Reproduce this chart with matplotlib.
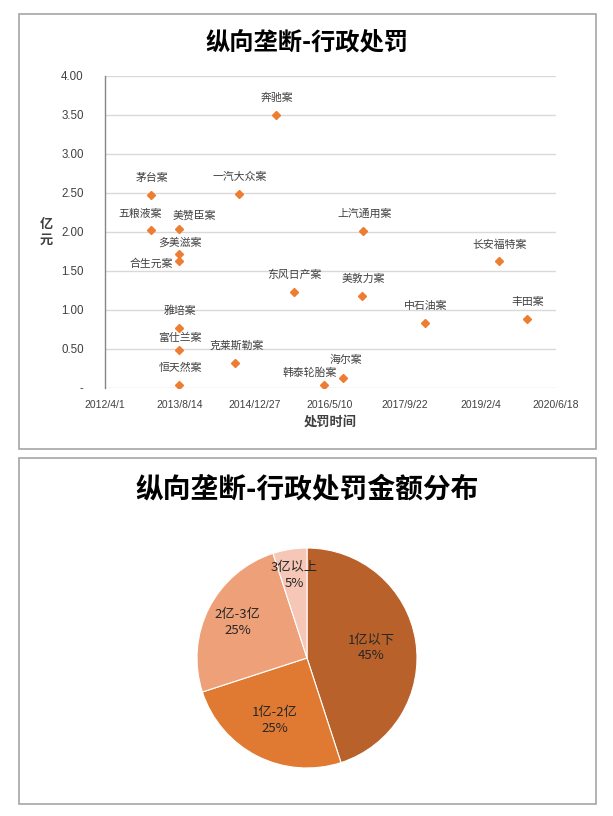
import matplotlib
matplotlib.use('Agg')
import matplotlib.pyplot as plt
import matplotlib.dates as mdates
from matplotlib.patches import Rectangle
import datetime as dt
import numpy as np

plt.rcParams['font.family'] = ['Noto Sans CJK SC', 'DejaVu Sans']

# ---------------- data ----------------
cases = ['茅台案', '五粮液案', '美赞臣案', '多美滋案', '合生元案', '雅培案', '富仕兰案',
         '恒天然案', '一汽大众案', '克莱斯勒案', '奔驰案', '东风日产案', '韩泰轮胎案',
         '海尔案', '美敦力案', '上汽通用案', '中石油案', '长安福特案', '丰田案']
dates = ['2013-02-03', '2013-02-03', '2013-08-10', '2013-08-10', '2013-08-10', '2013-08-10',
         '2013-08-10', '2013-08-10', '2014-09-11', '2014-08-19', '2015-05-19', '2015-09-12',
         '2016-04-03', '2016-08-07', '2016-12-12', '2016-12-18', '2018-01-30', '2019-06-05',
         '2019-12-09']
fines = [2.47, 2.02, 2.04, 1.71, 1.62, 0.77, 0.48, 0.04, 2.48, 0.32, 3.50, 1.23, 0.03,
         0.12, 1.18, 2.01, 0.83, 1.62, 0.88]

x_tick_dates = ['2012-04-01', '2013-08-14', '2014-12-27', '2016-05-10', '2017-09-22',
                '2019-02-04', '2020-06-18']
x_tick_labels = ['2012/4/1', '2013/8/14', '2014/12/27', '2016/5/10', '2017/9/22',
                 '2019/2/4', '2020/6/18']
y_ticks = [0, 0.5, 1.0, 1.5, 2.0, 2.5, 3.0, 3.5, 4.0]
y_tick_labels = ['-', '0.50', '1.00', '1.50', '2.00', '2.50', '3.00', '3.50', '4.00']

pie_labels = ['1亿以下', '1亿-2亿', '2亿-3亿', '3亿以上']
pie_shares = [45, 25, 25, 5]

title_top = '纵向垄断-行政处罚'
title_bottom = '纵向垄断-行政处罚金额分布'

# ---------------- styling ----------------
W, H = 613, 816
fig = plt.figure(figsize=(W / 100, H / 100), dpi=100)
fig.patch.set_facecolor('white')

def fx(px):
    return px / W

def fy(py):
    return 1 - py / H

border_c = '#A6A6A6'
fig.patches.append(Rectangle((fx(19), fy(449)), fx(596) - fx(19), fy(14) - fy(449),
                             transform=fig.transFigure, fill=False, ec=border_c, lw=1.2))
fig.patches.append(Rectangle((fx(19), fy(804)), fx(596) - fx(19), fy(458) - fy(804),
                             transform=fig.transFigure, fill=False, ec=border_c, lw=1.2))

txt_c = '#404040'
tick_font = ['Liberation Sans', 'DejaVu Sans']

# ---------------- scatter ----------------
left, right, top, bottom = 104.5, 555.5, 75.7, 387.7
ax = fig.add_axes([fx(left), fy(bottom), fx(right) - fx(left), fy(top) - fy(bottom)])
xd = [mdates.date2num(dt.date.fromisoformat(d)) for d in dates]
ax.plot(xd, fines, linestyle='none', marker='D', ms=4.3, color='#ED7D31', zorder=3)

xt = [mdates.date2num(dt.date.fromisoformat(d)) for d in x_tick_dates]
ax.set_xlim(xt[0], xt[-1])
ax.set_ylim(0, 4)
ax.set_xticks(xt)
ax.set_xticklabels(x_tick_labels, family=tick_font, fontsize=7.5, color=txt_c)
ax.set_yticks(y_ticks)
ax.set_yticklabels(y_tick_labels, family=tick_font, fontsize=8.3, color=txt_c)
ax.tick_params(axis='both', length=0)
ax.tick_params(axis='x', pad=9)
ax.tick_params(axis='y', pad=15)
ax.grid(axis='y', color='#D9D9D9', lw=1)
ax.set_axisbelow(True)
for s in ['top', 'right', 'bottom']:
    ax.spines[s].set_visible(False)
ax.spines['left'].set_color('#868686')
ax.spines['left'].set_linewidth(1)

offsets = {'五粮液案': (-11, 16), '美赞臣案': (15, 13), '多美滋案': (1, 12),
           '合生元案': (-28, -2), '富仕兰案': (1, 12), '韩泰轮胎案': (-15, 13),
           '海尔案': (2, 18)}
for name, x, y in zip(cases, xd, fines):
    dx, dy = offsets.get(name, (1, 17))
    ax.annotate(name, (x, y), xytext=(dx, dy), textcoords='offset pixels',
                ha='center', va='center', fontsize=7.8, color=txt_c)

fig.text(fx(307), fy(42), title_top, ha='center', va='center', fontsize=17.5,
         fontweight='bold', color='black')
fig.text(fx(46), fy(232), '亿\n元', ha='center', va='center', fontsize=9.5,
         fontweight='bold', color=txt_c, linespacing=1.15)
fig.text(fx(330), fy(422), '处罚时间', ha='center', va='center', fontsize=9.5,
         fontweight='bold', color=txt_c)

# ---------------- pie ----------------
cx, cy, r = 307, 658, 110
pax = fig.add_axes([fx(cx - r), fy(cy + r), fx(2 * r), (2 * r) / H])
pie_colors = ['#B9612A', '#E07A33', '#EEA079', '#F6C6B6']
wedges, _ = pax.pie(pie_shares, colors=pie_colors, startangle=90, counterclock=False,
                    radius=1, wedgeprops=dict(edgecolor='white', linewidth=0.8))
pax.set_xlim(-1, 1)
pax.set_ylim(-1, 1)
pax.set_aspect('equal')
pax.axis('off')
label_r = [0.59, 0.64, 0.71, 0.76]
for w, lab, share, lr in zip(wedges, pie_labels, pie_shares, label_r):
    ang = np.deg2rad((w.theta1 + w.theta2) / 2)
    pax.text(lr * np.cos(ang), lr * np.sin(ang), f'{lab}\n{share}%', ha='center',
             va='center', fontsize=9.5, color='#262626', linespacing=1.25)

fig.text(fx(307), fy(490), title_bottom, ha='center', va='center', fontsize=20,
         fontweight='bold', color='black')

fig.savefig('out.png', dpi=100, facecolor='white')
